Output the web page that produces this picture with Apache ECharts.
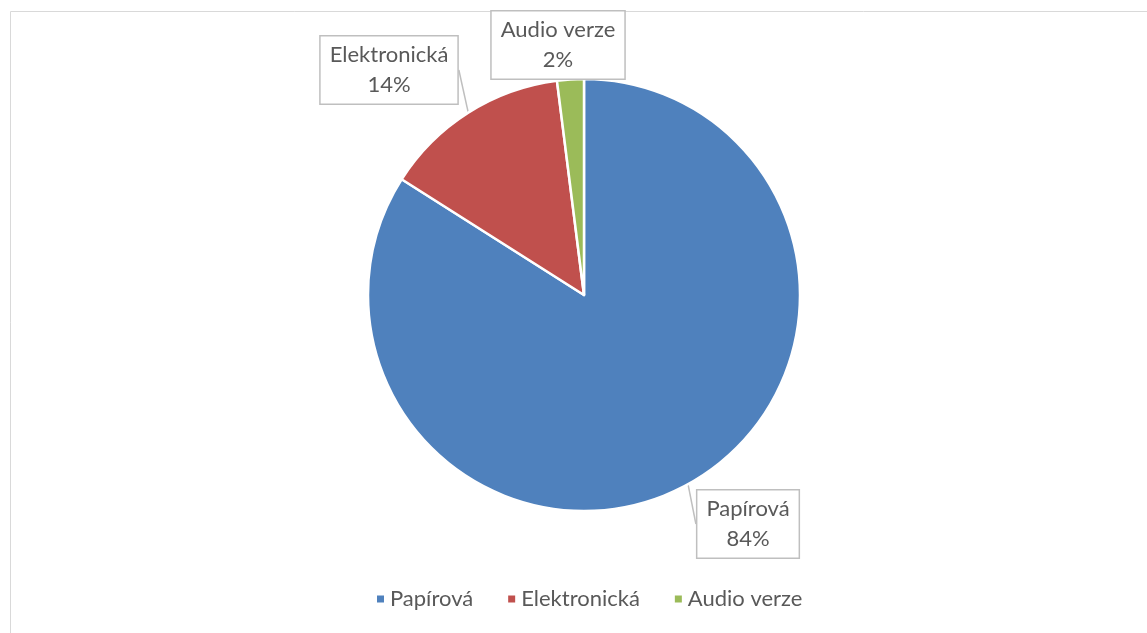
<!DOCTYPE html>
<html><head><meta charset="utf-8">
<script src="https://cdn.jsdelivr.net/npm/echarts@6/dist/echarts.min.js"></script>
<style>html,body{margin:0;padding:0;background:#fff}#c{width:1147px;height:633px}</style>
</head><body><div id="c"></div>
<script>
const categories = ['Papírová', 'Elektronická', 'Audio verze'];
const values = [84, 14, 2];
const colors = ['#4F81BD', '#C0504D', '#9BBB59'];
const labelCenters = [[748, 524], [389, 70], [558, 45]];

const chart = echarts.init(document.getElementById('c'), null, {renderer: 'canvas'});
chart.setOption({
  animation: false,
  color: colors,
  graphic: [{
    type: 'rect', shape: {x: 10.5, y: 11.5, width: 1300, height: 800},
    style: {fill: 'none', stroke: '#d9d9d9', lineWidth: 1}, silent: true, z: -1
  }],
  legend: {
    bottom: 18, left: 370, itemWidth: 9, itemHeight: 9, itemGap: 33, icon: 'rect',
    textStyle: {fontFamily: 'Lato', fontSize: 22, color: '#595959'},
    data: categories
  },
  series: [{
    type: 'pie',
    center: [584, 295],
    radius: 216,
    startAngle: 90,
    clockwise: true,
    itemStyle: {borderColor: '#fff', borderWidth: 2.5},
    label: {
      show: true,
      formatter: '{b}\n{d}%',
      fontFamily: 'Lato', fontSize: 22, color: '#595959', lineHeight: 30,
      backgroundColor: '#fff', borderColor: '#bfbfbf', borderWidth: 1.5,
      padding: [4, 9, 3, 9], align: 'center'
    },
    labelLine: {show: true, length: 0, length2: 0, lineStyle: {color: '#bfbfbf', width: 1.5}},
    labelLayout: function (p) {
      const c = labelCenters[p.dataIndex];
      return {x: c[0], y: c[1], align: 'center', verticalAlign: 'middle'};
    },
    data: categories.map((n, i) => ({name: n, value: values[i]}))
  }]
});
</script></body></html>
